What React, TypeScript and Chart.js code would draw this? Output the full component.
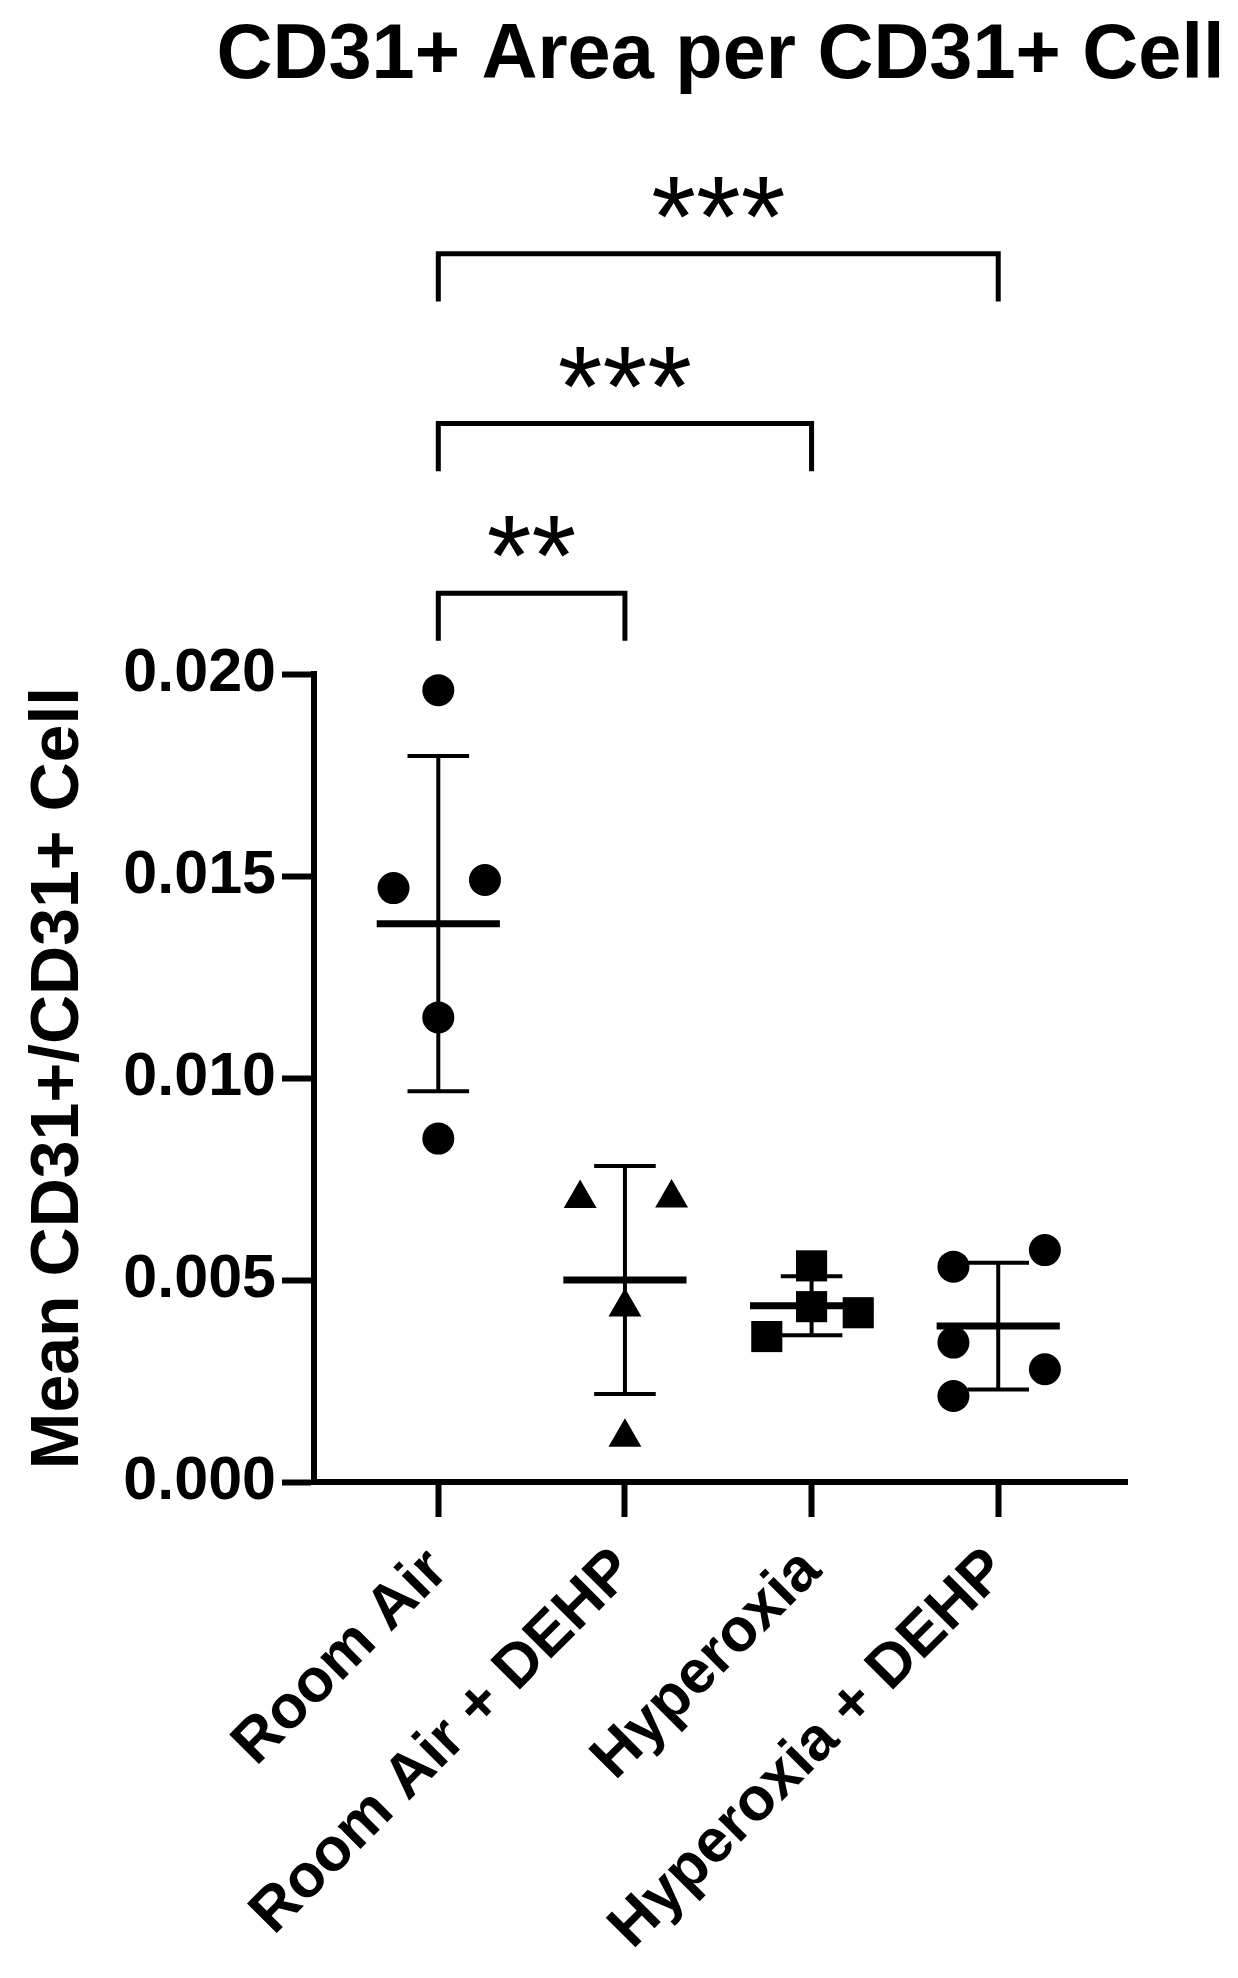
import React, { useEffect, useRef } from 'react';
import { Chart, registerables } from 'chart.js';

Chart.register(...registerables);

// ---- data ----
const categories = ['Room Air', 'Room Air + DEHP', 'Hyperoxia', 'Hyperoxia + DEHP'];

const roomAir = [0.0196, 0.0147, 0.0149, 0.0115, 0.0085];
const roomAirJitter = [0, -0.24, 0.25, 0, 0];

const roomAirDehp = [0.00702, 0.00703, 0.00433, 0.00111];
const roomAirDehpJitter = [-0.24, 0.25, 0, 0];

const hyperoxia = [0.00535, 0.00434, 0.00419, 0.0036];
const hyperoxiaJitter = [0, 0, 0.25, -0.24];

const hyperoxiaDehp = [0.00533, 0.00574, 0.00345, 0.00279, 0.00213];
const hyperoxiaDehpJitter = [-0.24, 0.25, -0.24, 0.25, -0.24];

const groupMeans = [0.01382, 0.005, 0.00436, 0.00386];
const groupSDs = [0.00415, 0.00282, 0.00073, 0.00157];

const yTicks = [0, 0.005, 0.01, 0.015, 0.02];

const comparisons = [
  [1, 2],
  [1, 3],
  [1, 4],
];
const comparisonLabels = ['**', '***', '***'];
const bracketLevels = [0.022, 0.0262, 0.0304];

const chartTitle = 'CD31+ Area per CD31+ Cell';
const yAxisTitle = 'Mean CD31+/CD31+ Cell';

const FONT = "'Liberation Sans', Arial, Helvetica, sans-serif";

const toPoints = (vals: number[], jit: number[], group: number) =>
  vals.map((v, i) => ({ x: group + jit[i], y: v }));

const overlayPlugin = {
  id: 'overlay',
  beforeDatasetsDraw(chart: any) {
    const { ctx, scales } = chart;
    const x = scales.x;
    const y = scales.y;
    ctx.save();
    ctx.strokeStyle = '#000';
    ctx.lineCap = 'butt';
    groupMeans.forEach((m, i) => {
      const g = i + 1;
      const cx = x.getPixelForValue(g);
      const yTop = y.getPixelForValue(m + groupSDs[i]);
      const yBot = y.getPixelForValue(m - groupSDs[i]);
      const yMean = y.getPixelForValue(m);
      const capL = x.getPixelForValue(g - 0.165);
      const capR = x.getPixelForValue(g + 0.165);
      const meanL = x.getPixelForValue(g - 0.33);
      const meanR = x.getPixelForValue(g + 0.33);
      ctx.lineWidth = 4;
      ctx.beginPath();
      ctx.moveTo(cx, yTop);
      ctx.lineTo(cx, yBot);
      ctx.moveTo(capL, yTop);
      ctx.lineTo(capR, yTop);
      ctx.moveTo(capL, yBot);
      ctx.lineTo(capR, yBot);
      ctx.stroke();
      ctx.lineWidth = 7;
      ctx.beginPath();
      ctx.moveTo(meanL, yMean);
      ctx.lineTo(meanR, yMean);
      ctx.stroke();
    });
    ctx.restore();
  },
  afterDraw(chart: any) {
    const { ctx, scales, chartArea } = chart;
    const x = scales.x;
    const y = scales.y;
    ctx.save();
    ctx.strokeStyle = '#000';
    ctx.fillStyle = '#000';
    // chart title, centred over the plot area
    ctx.font = `bold 77.5px ${FONT}`;
    ctx.textAlign = 'center';
    ctx.textBaseline = 'alphabetic';
    ctx.fillText(chartTitle, (chartArea.left + chartArea.right) / 2, 70);
    // significance brackets
    ctx.lineWidth = 5;
    ctx.lineJoin = 'miter';
    comparisons.forEach(([a, b], i) => {
      const x1 = x.getPixelForValue(a);
      const x2 = x.getPixelForValue(b);
      const yl = y.getPixelForValue(bracketLevels[i]);
      const yLeg = y.getPixelForValue(bracketLevels[i] - 0.00118);
      ctx.beginPath();
      ctx.moveTo(x1, yLeg);
      ctx.lineTo(x1, yl);
      ctx.lineTo(x2, yl);
      ctx.lineTo(x2, yLeg);
      ctx.stroke();
      ctx.font = `115px ${FONT}`;
      ctx.textAlign = 'center';
      ctx.textBaseline = 'alphabetic';
      ctx.fillText(comparisonLabels[i], (x1 + x2) / 2, yl + 2);
    });
    ctx.restore();
  },
};

export default function App() {
  const ref = useRef<HTMLCanvasElement | null>(null);

  useEffect(() => {
    if (!ref.current) return;
    const chart = new Chart(ref.current, {
      type: 'scatter',
      data: {
        datasets: [
          {
            label: categories[0],
            data: toPoints(roomAir, roomAirJitter, 1),
            pointStyle: 'circle',
            pointRadius: 16,
            backgroundColor: '#000',
            borderColor: '#000',
            borderWidth: 0,
          },
          {
            label: categories[1],
            data: toPoints(roomAirDehp, roomAirDehpJitter, 2),
            pointStyle: 'triangle',
            pointRadius: 19,
            backgroundColor: '#000',
            borderColor: '#000',
            borderWidth: 0,
          },
          {
            label: categories[2],
            data: toPoints(hyperoxia, hyperoxiaJitter, 3),
            pointStyle: 'rect',
            pointRadius: 22,
            backgroundColor: '#000',
            borderColor: '#000',
            borderWidth: 0,
          },
          {
            label: categories[3],
            data: toPoints(hyperoxiaDehp, hyperoxiaDehpJitter, 4),
            pointStyle: 'circle',
            pointRadius: 16,
            backgroundColor: '#000',
            borderColor: '#000',
            borderWidth: 0,
          },
        ],
      },
      options: {
        responsive: false,
        devicePixelRatio: 1,
        animation: false,
        layout: { padding: { left: 0, right: 103, top: 666, bottom: 0 } },
        plugins: {
          legend: { display: false },
          tooltip: { enabled: false },
          title: { display: false },
        },
        scales: {
          x: {
            type: 'linear',
            min: 0.334,
            max: 4.69,
            afterBuildTicks: (scale: any) => {
              scale.ticks = categories.map((_, i) => ({ value: i + 1 }));
            },
            afterFit: (scale: any) => {
              scale.height = 488;
            },
            ticks: {
              autoSkip: false,
              minRotation: 45,
              maxRotation: 45,
              padding: 18,
              color: '#000',
              font: { family: FONT, size: 61, weight: 'bold' },
              callback: (v: any) => categories[Math.round(Number(v)) - 1] ?? '',
            },
            grid: {
              display: true,
              drawOnChartArea: false,
              drawTicks: true,
              tickLength: 35,
              tickWidth: 6,
              tickColor: '#000',
            },
            border: { display: true, color: '#000', width: 6 },
          },
          y: {
            type: 'linear',
            min: 0,
            max: 0.02,
            afterBuildTicks: (scale: any) => {
              scale.ticks = yTicks.map((v) => ({ value: v }));
            },
            afterFit: (scale: any) => {
              scale.width = 306;
            },
            ticks: {
              padding: 6,
              color: '#000',
              font: { family: FONT, size: 61, weight: 'bold' },
              callback: (v: any) => Number(v).toFixed(3),
            },
            grid: {
              display: true,
              drawOnChartArea: false,
              drawTicks: true,
              tickLength: 32,
              tickWidth: 6,
              tickColor: '#000',
            },
            border: { display: true, color: '#000', width: 6 },
            title: {
              display: true,
              text: yAxisTitle,
              color: '#000',
              font: { family: FONT, size: 68, weight: 'bold', lineHeight: 1.2 },
              padding: { top: 10, bottom: 0 },
            },
          },
        },
      },
      plugins: [overlayPlugin],
    });
    return () => chart.destroy();
  }, []);

  return (
    <div style={{ width: 1222, height: 1962, background: '#fff' }}>
      <canvas ref={ref} width={1222} height={1962} style={{ display: 'block' }} />
    </div>
  );
}
